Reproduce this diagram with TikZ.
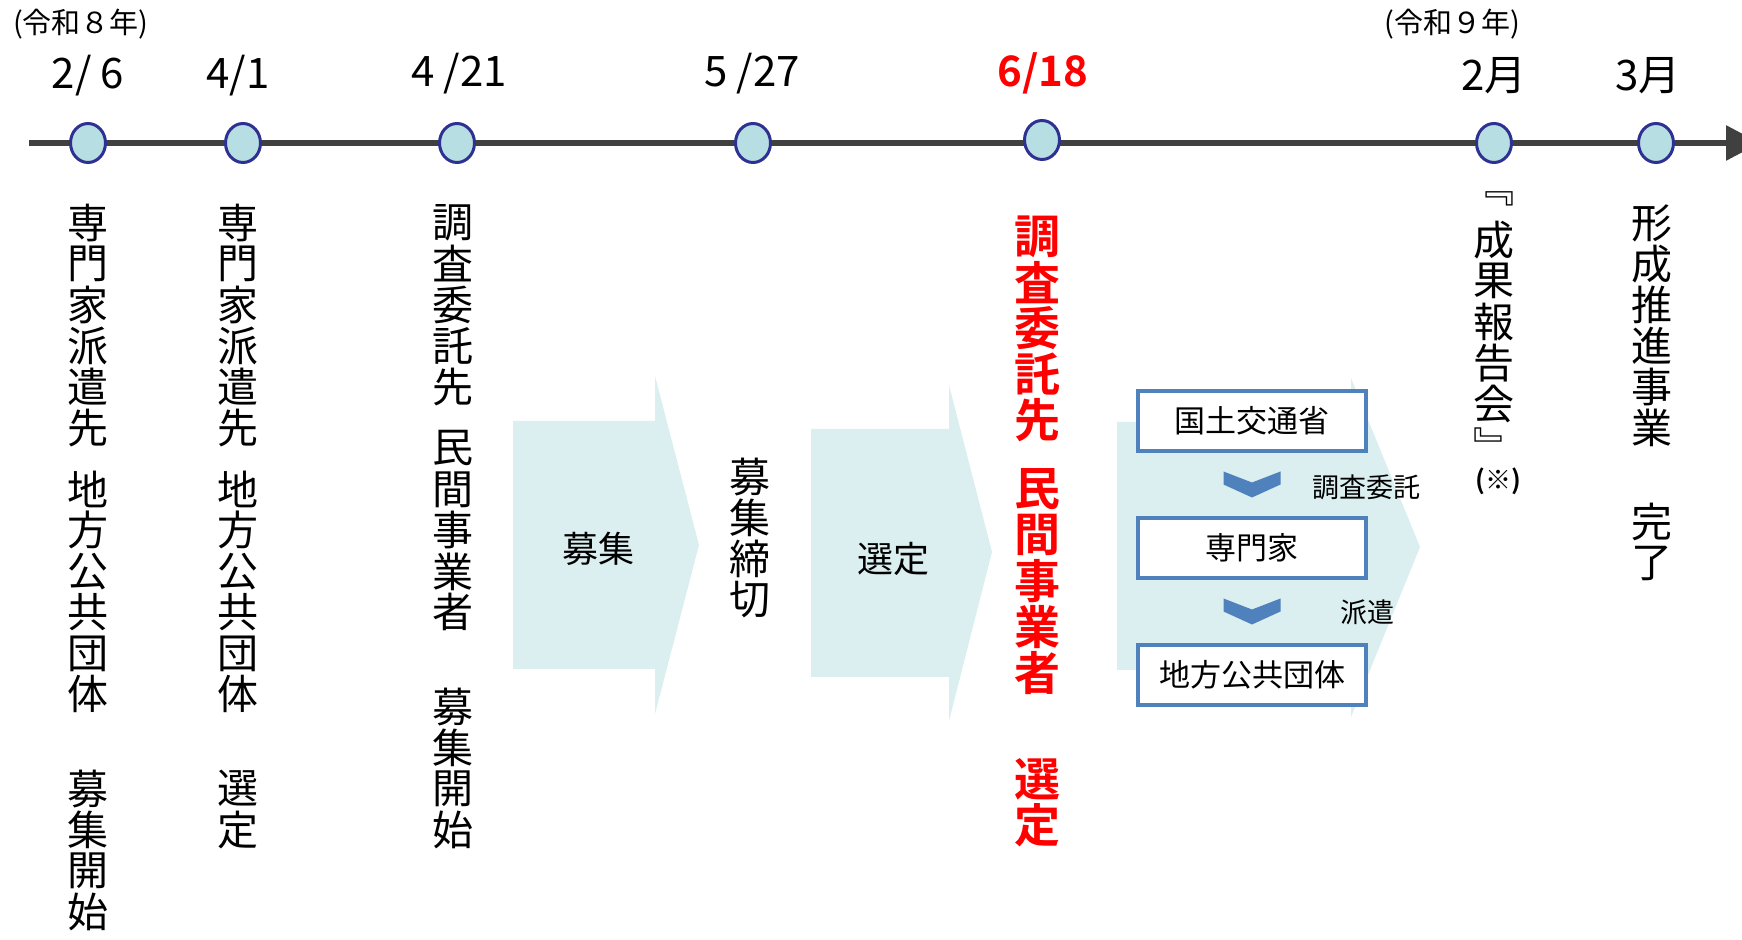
\documentclass[tikz,border=0pt]{standalone}
\usepackage{fontspec}
\setmainfont{Noto Sans CJK JP}[BoldFont={Noto Sans CJK JP Bold}]
\usetikzlibrary{shapes.geometric,positioning,calc,arrows.meta}

\definecolor{linegray}{RGB}{64,64,64}
\definecolor{dotfill}{RGB}{183,222,226}
\definecolor{dotedge}{RGB}{46,49,146}
\definecolor{pale}{RGB}{219,238,240}
\definecolor{boxblue}{RGB}{79,129,189}

% vertical writing: one character per line
\makeatletter
\def\tsp{tsp}
\def\tgap{tgap}
\def\tate@end{end}
\newcommand\tate[1]{\vbox{\offinterlineskip\tate@next#1\tate@end}}
\def\tate@next#1{%
  \ifx#1\tate@end\else
    \ifx#1\tsp\vskip.5em\else
      \ifx#1\tgap\vskip1.3em\else
        \hbox to 1em{\hss\vbox to 1em{\vss\hbox{#1}\vss}\hss}%
      \fi
    \fi
    \expandafter\tate@next
  \fi}
\makeatother

\tikzset{
  dot/.style={ellipse, draw=dotedge, fill=dotfill, line width=1.5pt,
    minimum width=17.5pt, minimum height=19.5pt, inner sep=0pt},
  date/.style={font=\fontsize{21}{21}\selectfont, inner sep=0pt},
  year/.style={font=\fontsize{14.5}{14.5}\selectfont, inner sep=0pt},
  tatebox/.style={anchor=north, inner sep=0pt,
    font=\fontsize{20.5}{20.5}\selectfont},
  stage/.style={fill=pale},
  stagetext/.style={font=\fontsize{18}{18}\selectfont, inner sep=0pt},
  orgbox/.style={draw=boxblue, line width=2pt, fill=white, minimum width=114pt,
    minimum height=30pt, inner sep=0pt, font=\fontsize{15.5}{15.5}\selectfont},
  chev/.style={fill=boxblue},
  flowlab/.style={font=\fontsize{13.5}{13.5}\selectfont, inner sep=0pt},
}

\begin{document}
\begin{tikzpicture}[x=0.5pt,y=-0.5pt]
    \useasboundingbox (0,0) rectangle (1742,940);

    % Stage arrows
    \fill[stage] (513,421) -- (655,421) -- (655,376) -- (699,545) -- (655,714) -- (655,669) -- (513,669) -- cycle;
    \fill[stage] (811,429) -- (949,429) -- (949,385) -- (992,552) -- (949,721) -- (949,677) -- (811,677) -- cycle;
    \fill[stage] (1117,422) -- (1351,422) -- (1351,378) -- (1420,547) -- (1351,717) -- (1351,670) -- (1117,670) -- cycle;
    \node[stagetext] (boshu) at (598,549) {募集};
    \node[stagetext] (sentei) at (893,559) {選定};

    % Time axis
    \coordinate (start) at (29,143);
    \coordinate (end) at (1760,143);
    \draw[linegray, line width=3pt, -{Triangle[length=17pt,width=17pt]}] (start) -- (end);
    \node[dot] (d1) at (88,143) {};
    \node[dot] (d2) at (243,143) {};
    \node[dot] (d3) at (457,143) {};
    \node[dot] (d4) at (753,143) {};
    \node[dot] (d5) at (1042,140) {};
    \node[dot] (d6) at (1494,143) {};
    \node[dot] (d7) at (1656,143) {};

    % Years and dates
    \node[year] (r8) at (81,24) {(令和８年)};
    \node[year] (r9) at (1452,24) {(令和９年)};
    \node[date] (t26) at (88,76) {2/ 6};
    \node[date] (t41) at (238,76) {4/1};
    \node[date] (t421) at (459,74) {4 /21};
    \node[date] (t527) at (752,74) {5 /27};
    \node[date, text=red, font=\bfseries\fontsize{21}{21}\selectfont] (t618) at (1043,73) {6/18};
    \node[date] (feb) at (1494,76) {2月};
    \node[date] (mar) at (1648,76) {3月};

    % Vertical texts
    \node[tatebox] (v1) at (88,202) {\tate{専門家派遣先\tsp 地方公共団体\tgap 募集開始}};
    \node[tatebox] (v2) at (238,202) {\tate{専門家派遣先\tsp 地方公共団体\tgap 選定}};
    \node[tatebox] (v3) at (453,202) {\tate{調査委託先\tsp 民間事業者\tgap 募集開始}};
    \node[tatebox] (v4) at (750,456) {\tate{募集締切}};
    \node[tatebox, text=red, font=\bfseries\fontsize{23}{23}\selectfont] (v5) at (1037,213) {\tate{調査委託先\tsp 民間事業者\tgap 選定}};
    \node[tatebox] (v6) at (1494,178) {\tate{﹃成果報告会﹄}};
    \node[font=\bfseries\fontsize{13}{13}\selectfont, inner sep=0pt] (v6note) at (1498,481) {(※)};
    \node[tatebox] (v7) at (1652,202) {\tate{形成推進事業\tgap 完了}};

    % Organisation flow
    \node[orgbox] (mlit) at (1252,421) {国土交通省};
    \node[orgbox, below=31.5pt of mlit] (expert) {専門家};
    \node[orgbox, below=31.5pt of expert] (local) {地方公共団体};
    \coordinate (c1) at ($(mlit.south)!.5!(expert.north)$);
    \coordinate (c2) at ($(expert.south)!.5!(local.north)$);
    \fill[chev] (c1) ++(-28.5,-13) -- ++(28.5,11) -- ++(28.5,-11) -- ++(0,13) -- ++(-28.5,13) -- ++(-28.5,-13) -- cycle;
    \fill[chev] (c2) ++(-28.5,-13) -- ++(28.5,11) -- ++(28.5,-11) -- ++(0,13) -- ++(-28.5,13) -- ++(-28.5,-13) -- cycle;
    \node[flowlab] (lab1) at (1366,487) {調査委託};
    \node[flowlab] (lab2) at (1367,612) {派遣};
\end{tikzpicture}
\end{document}
